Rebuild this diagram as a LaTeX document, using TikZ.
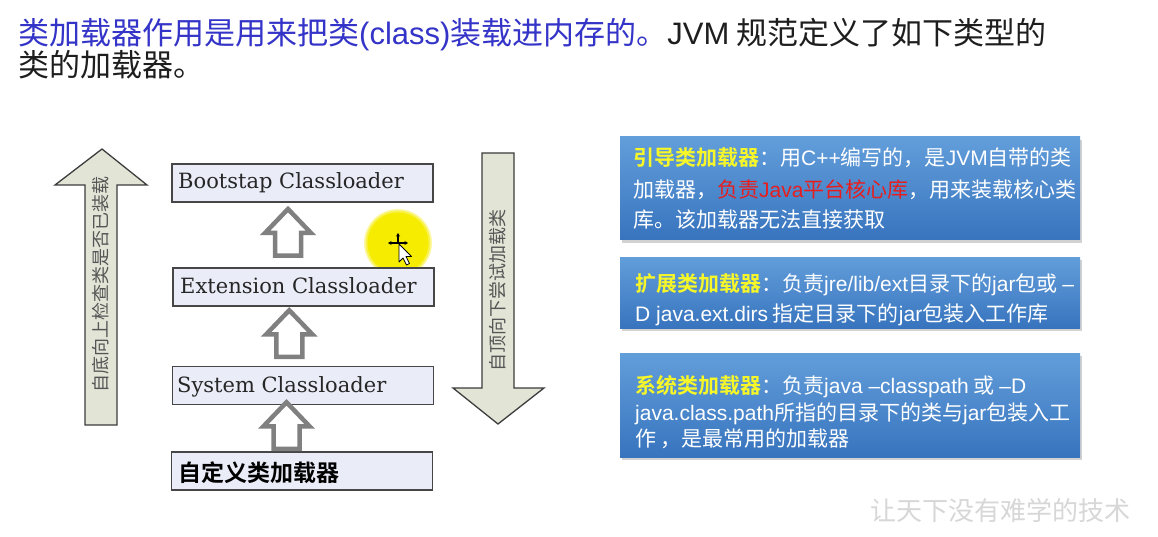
\documentclass[tikz,border=0pt]{standalone}
\usepackage{fontspec}
\setmainfont{Liberation Sans}
\newfontfamily\cjk{Noto Sans CJK SC}
\newfontfamily\cjkbold{Noto Sans CJK SC Bold}
\newfontfamily\boxserif{DejaVu Serif}
\usetikzlibrary{shadows,calc,arrows.meta}
% Latin runs inside Chinese text use the Arial-width sans
\newcommand\ltn[1]{{\rmfamily #1}}

\definecolor{titleblue}{RGB}{52,52,200}
\definecolor{titleblack}{RGB}{30,30,30}
\definecolor{arrowfill}{RGB}{226,228,214}
\definecolor{arrowline}{RGB}{60,60,60}
\definecolor{arrowtext}{RGB}{85,85,85}
\definecolor{boxfill}{RGB}{234,236,248}
\definecolor{boxline}{RGB}{70,70,70}
\definecolor{hollowgray}{RGB}{128,128,128}
\definecolor{paneltop}{RGB}{98,158,218}
\definecolor{panelbot}{RGB}{56,116,190}
\definecolor{labelyellow}{RGB}{246,246,40}
\definecolor{labelred}{RGB}{232,30,30}
\definecolor{watermark}{RGB}{215,215,215}
\definecolor{spot}{RGB}{246,236,0}

\begin{document}
\begin{tikzpicture}[x=1pt,y=-1pt,
  titlefont/.style={anchor=base west, inner sep=0, font=\cjk\fontsize{31}{36}\selectfont},
  loaderbox/.style={draw=boxline, fill=boxfill, line width=1.4pt, minimum width=261pt, minimum height=38pt, inner sep=0},
  loadertext/.style={anchor=base west, inner sep=0, font=\boxserif\fontsize{21}{24}\selectfont, text=black!85},
  bigarrow/.style={draw=arrowline, fill=arrowfill, line width=1.3pt, line join=miter},
  arrowlabel/.style={rotate=90, inner sep=0, font=\cjk\fontsize{18}{18}\selectfont, text=arrowtext},
  panel/.style={rectangle, minimum width=460pt, inner sep=0, top color=paneltop, bottom color=panelbot,
    drop shadow={shadow xshift=2pt, shadow yshift=-3pt, opacity=0.35}},
  paneltext/.style={anchor=base west, inner sep=0, font=\cjk\fontsize{21}{24}\selectfont, text=white},
  hollowup/.pic={\draw[line width=4.5pt, draw=hollowgray, fill=white, line join=miter]
    (0,-23) -- (23,1) -- (13,1) -- (13,23.5) -- (-13,23.5) -- (-13,1) -- (-23,1) -- cycle;}
]
\useasboundingbox[fill=white] (0,0) rectangle (1158,537);

% heading
\node[titlefont, text=titleblack] (title1) at (18,45)
  {\textcolor{titleblue}{类加载器作用是用来把类\ltn{(class)}装载进内存的。}\ltn{JVM} 规范定义了如下类型的};
\node[titlefont, text=titleblack] (title2) at (18,77) {类的加载器。};

% upward search arrow
\draw[bigarrow] (102,149) -- (147,185) -- (117,185) -- (117,425) -- (85,425) -- (85,185) -- (55,185) -- cycle;
\node[arrowlabel] (uplbl) at (101,284) {自底向上检查类是否已装载};

% downward loading arrow
\draw[bigarrow] (482,153) -- (514,153) -- (514,388) -- (544,388) -- (498,424) -- (453,388) -- (482,388) -- cycle;
\node[arrowlabel] (downlbl) at (498,290) {自顶向下尝试加载类};

% pointer highlight
\fill[spot!35] (398,243) circle (34);
\fill[spot!70] (398,243) circle (32.5);
\fill[spot] (398,243) circle (30.5);

% class loader hierarchy
\node[loaderbox] (boot) at (302.5,183) {};
\node[loadertext] (bootlbl) at (178,189) {Bootstap Classloader};
\node[loaderbox] (ext) at (303.5,287) {};
\node[loadertext] (extlbl) at (180,293) {Extension Classloader};
\node[loaderbox] (sys) at (303,385.5) {};
\node[loadertext] (syslbl) at (177,392) {System Classloader};
\node[loaderbox] (custom) at (302,471) {};
\node[anchor=base west, inner sep=0, font=\cjkbold\fontsize{23}{24}\selectfont, text=black] (customlbl) at (178,481) {自定义类加载器};

\pic at ($(ext.north)!0.5!(boot.south)+(-15,-3)$) {hollowup};
\pic at ($(sys.north)!0.5!(ext.south)+(-14,-3)$) {hollowup};
\pic at ($(custom.north)!0.5!(sys.south)+(-16,-3)$) {hollowup};

% mouse pointer
\begin{scope}[line width=1.2pt, -{Stealth[length=3.5pt,width=4pt]}]
  \draw (398,243) -- (398,233);
  \draw (398,243) -- (388,243);
  \draw (398,243) -- (408,243);
\end{scope}
\draw[black, fill=white, line width=0.8pt, line join=round] (399,244) -- (399,262) -- (403,258) -- (406.5,265) -- (409.5,263.5) -- (406,256.5) -- (411.5,256.5) -- cycle;

% description panels
\node[panel, minimum height=103pt] (bootinfo) at (850,188.5) {};
\node[paneltext] (b1) at (633,166) {\textcolor{labelyellow}{\cjkbold 引导类加载器}：用\ltn{C++}编写的，是\ltn{JVM}自带的类};
\node[paneltext] (b2) at (633,198) {加载器，\textcolor{labelred}{负责\ltn{Java}平台核心库}，用来装载核心类};
\node[paneltext] (b3) at (633,228) {库。该加载器无法直接获取};

\node[panel, minimum height=71pt] (extinfo) at (850,292.5) {};
\node[paneltext] (e1) at (635,291) {\textcolor{labelyellow}{\cjkbold 扩展类加载器}：负责\ltn{jre/lib/ext}目录下的\ltn{jar}包或 \ltn{–}};
\node[paneltext] (e2) at (635,321) {\ltn{D java.ext.dirs} 指定目录下的\ltn{jar}包装入工作库};

\node[panel, minimum height=104pt] (sysinfo) at (850,405) {};
\node[paneltext] (s1) at (635,393) {\textcolor{labelyellow}{\cjkbold 系统类加载器}：负责\ltn{java –classpath} 或 \ltn{–D}};
\node[paneltext] (s2) at (635,420) {\ltn{java.class.path}所指的目录下的类与\ltn{jar}包装入工};
\node[paneltext] (s3) at (635,446) {作 ，是最常用的加载器};

% watermark
\node[inner sep=0, font=\cjk\fontsize{26}{26}\selectfont, text=watermark] (wm) at (1000,511) {让天下没有难学的技术};
\end{tikzpicture}
\end{document}
